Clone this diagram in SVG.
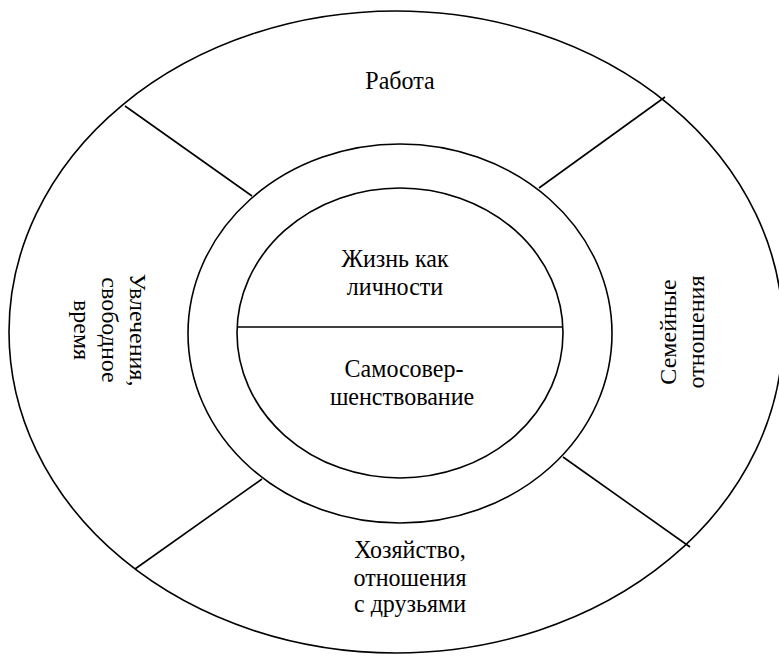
<svg xmlns="http://www.w3.org/2000/svg" width="779" height="657" viewBox="0 0 779 657">
<style>
.ring{fill:none;stroke:#000;stroke-width:1.6}
.ln{stroke:#000;stroke-width:1.6;fill:none}
.t{font-family:"Liberation Serif","Times New Roman",serif;font-size:24px;fill:#000;text-anchor:middle}
</style>
<rect width="779" height="657" fill="#fff"/>
<g id="outer"><ellipse class="ring" cx="396" cy="332" rx="387" ry="321"/></g>
<g id="middle"><ellipse class="ring" cx="400" cy="333.5" rx="212" ry="189.5"/></g>
<g id="connectors">
<line class="ln" x1="125" y1="106" x2="252" y2="196"/>
<line class="ln" x1="665" y1="97" x2="539" y2="188"/>
<line class="ln" x1="262" y1="479" x2="135" y2="569"/>
<line class="ln" x1="563" y1="457" x2="690" y2="547"/>
</g>
<g id="inner"><ellipse class="ring" cx="400" cy="333" rx="163" ry="145"/>
<line class="ln" x1="237.1" y1="327" x2="562.9" y2="327"/></g>
<g id="work"><text class="t" transform="translate(400,89) scale(1,1.07)">Работа</text></g>
<g id="life"><text class="t" transform="translate(395,267) scale(1,1.07)">Жизнь как</text><text class="t" transform="translate(395,295) scale(1,1.07)">личности</text></g>
<g id="self"><text class="t" transform="translate(404,377) scale(1,1.07)">Самосовер-</text><text class="t" transform="translate(402,405) scale(1,1.07)">шенствование</text></g>
<g id="home"><text class="t" transform="translate(410,558) scale(1,1.07)">Хозяйство,</text><text class="t" transform="translate(410,586) scale(1,1.07)">отношения</text><text class="t" transform="translate(410,612) scale(1,1.07)">с друзьями</text></g>
<g id="hobby"><text class="t" transform="translate(130,330) rotate(90)"><tspan x="0" y="0">Увлечения,</tspan><tspan x="0" y="28">свободное</tspan><tspan x="0" y="56">время</tspan></text></g>
<g id="family"><text class="t" transform="translate(676,332) rotate(-90)"><tspan x="0" y="0">Семейные</tspan><tspan x="0" y="28">отношения</tspan></text></g>
</svg>
